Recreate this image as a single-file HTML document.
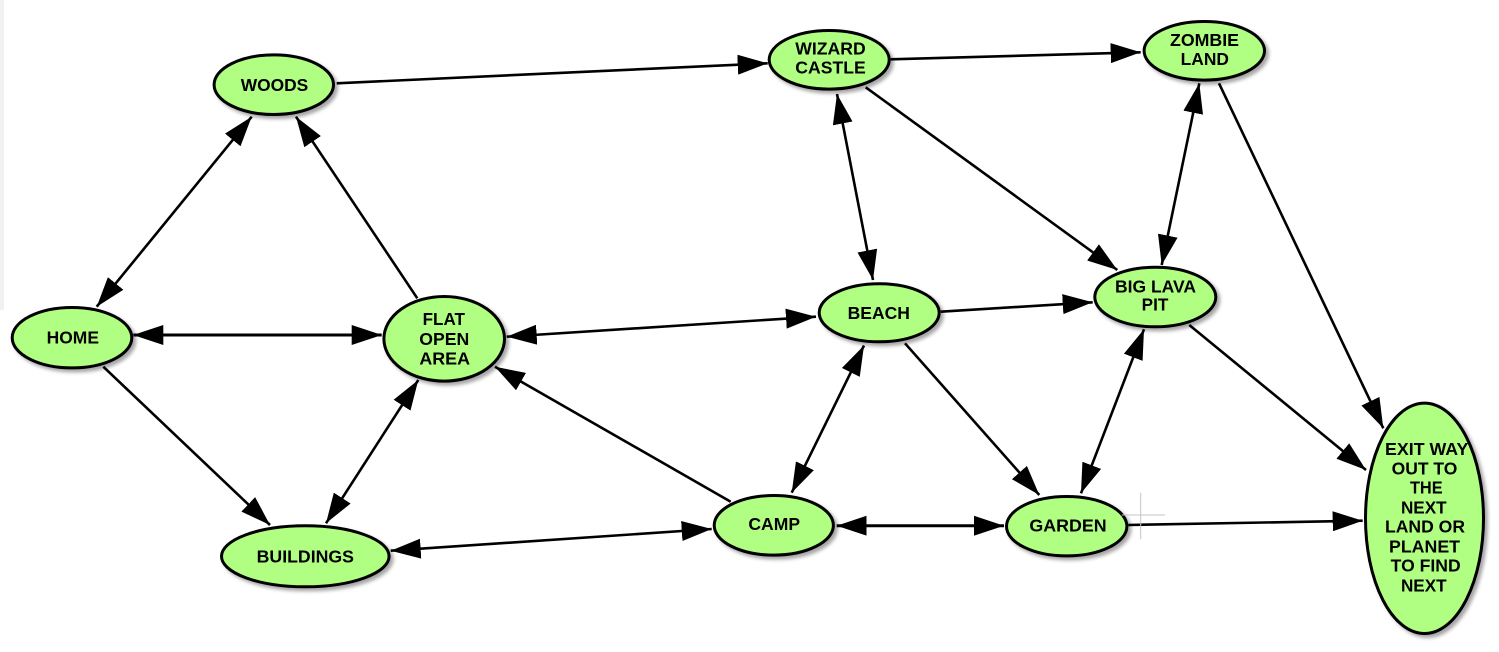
<!DOCTYPE html>
<html>
<head>
<meta charset="utf-8">
<style>
  html,body{margin:0;padding:0;background:#fff;}
  body{width:1499px;height:652px;overflow:hidden;}
  svg{display:block;}
  text{font-family:"Liberation Sans",Arial,sans-serif;font-weight:bold;font-size:17.5px;fill:#000;text-anchor:middle;}
</style>
</head>
<body>
<svg width="1499" height="652" viewBox="0 0 1499 652" xmlns="http://www.w3.org/2000/svg">
  <defs>
    <marker id="h" viewBox="0 0 30 20" refX="30" refY="10" markerWidth="30" markerHeight="20" markerUnits="userSpaceOnUse" orient="auto-start-reverse">
      <path d="M0,0 L30,10 L0,20 z" fill="#000"/>
    </marker>
    <filter id="sh" x="-20%" y="-20%" width="150%" height="150%">
      <feDropShadow dx="3" dy="3" stdDeviation="1.8" flood-color="#000" flood-opacity="0.35"/>
    </filter>
  </defs>

  <rect x="0" y="0" width="1499" height="652" fill="#fff"/>
  <rect x="0" y="0" width="4" height="310" fill="#f1f1f1"/>

  <!-- connectors -->
  <g stroke="#000" stroke-width="2.6" fill="none">
    <!-- WOODS -> WIZARD -->
    <line x1="336.7" y1="83.3" x2="767.7" y2="63.3" marker-end="url(#h)"/>
    <!-- WIZARD -> ZOMBIE -->
    <line x1="890.7" y1="59.3" x2="1140.7" y2="52.3" marker-end="url(#h)"/>
    <!-- HOME <-> WOODS -->
    <line x1="96.7" y1="306.7" x2="251.7" y2="116.7" marker-start="url(#h)" marker-end="url(#h)"/>
    <!-- FLAT -> WOODS -->
    <line x1="417.3" y1="298.3" x2="296" y2="116.7" marker-end="url(#h)"/>
    <!-- HOME <-> FLAT -->
    <line x1="133.3" y1="335" x2="381.7" y2="335" stroke-width="3" marker-start="url(#h)" marker-end="url(#h)"/>
    <!-- FLAT <-> BEACH -->
    <line x1="506.7" y1="336.7" x2="816" y2="316.7" marker-start="url(#h)" marker-end="url(#h)"/>
    <!-- HOME -> BUILDINGS -->
    <line x1="103.3" y1="366.7" x2="270" y2="525" marker-end="url(#h)"/>
    <!-- FLAT <-> BUILDINGS -->
    <line x1="418.3" y1="380" x2="326" y2="523.3" marker-start="url(#h)" marker-end="url(#h)"/>
    <!-- CAMP -> FLAT -->
    <line x1="730.7" y1="501.7" x2="495" y2="366.7" marker-end="url(#h)"/>
    <!-- BUILDINGS <-> CAMP -->
    <line x1="390.7" y1="550.7" x2="711.7" y2="529" marker-start="url(#h)" marker-end="url(#h)"/>
    <!-- WIZARD <-> BEACH -->
    <line x1="837" y1="94" x2="873" y2="280" marker-start="url(#h)" marker-end="url(#h)"/>
    <!-- WIZARD -> BIG LAVA -->
    <line x1="865.7" y1="87.3" x2="1117.3" y2="270" marker-end="url(#h)"/>
    <!-- ZOMBIE <-> BIG LAVA -->
    <line x1="1199.3" y1="83.3" x2="1161.7" y2="265" marker-start="url(#h)" marker-end="url(#h)"/>
    <!-- BEACH -> BIG LAVA -->
    <line x1="940.7" y1="311.7" x2="1092.7" y2="302.3" marker-end="url(#h)"/>
    <!-- ZOMBIE -> EXIT -->
    <line x1="1219" y1="83.3" x2="1383.3" y2="428.3" marker-end="url(#h)"/>
    <!-- BIG LAVA -> EXIT -->
    <line x1="1189.3" y1="325" x2="1366" y2="470" marker-end="url(#h)"/>
    <!-- BEACH -> GARDEN -->
    <line x1="905" y1="343.3" x2="1039.3" y2="495" marker-end="url(#h)"/>
    <!-- BEACH <-> CAMP -->
    <line x1="864" y1="345.5" x2="791.7" y2="492.7" marker-start="url(#h)" marker-end="url(#h)"/>
    <!-- CAMP <-> GARDEN -->
    <line x1="836.7" y1="525.7" x2="1004" y2="525.7" stroke-width="3" marker-start="url(#h)" marker-end="url(#h)"/>
    <!-- BIG LAVA <-> GARDEN -->
    <line x1="1144" y1="329.3" x2="1081" y2="493.3" marker-start="url(#h)" marker-end="url(#h)"/>
    <!-- GARDEN -> EXIT -->
    <line x1="1128.3" y1="525" x2="1362.7" y2="520.7" marker-end="url(#h)"/>
  </g>

  <!-- nodes -->
  <g fill="#b0ff82" stroke="#000" stroke-width="3" filter="url(#sh)">
    <ellipse cx="273.8" cy="84.7" rx="59.7" ry="29.8"/>
    <ellipse cx="72" cy="337.7" rx="59.8" ry="30.2"/>
    <ellipse cx="444.2" cy="338.8" rx="60.3" ry="42.3"/>
    <ellipse cx="829.2" cy="59.8" rx="60" ry="29.3"/>
    <ellipse cx="1204.3" cy="50.8" rx="60.2" ry="29.3"/>
    <ellipse cx="879.2" cy="312.8" rx="60" ry="29"/>
    <ellipse cx="1155.3" cy="297" rx="60.5" ry="29.8"/>
    <ellipse cx="773.8" cy="525.3" rx="59.6" ry="29.8"/>
    <ellipse cx="1066.7" cy="526.2" rx="60.2" ry="29.7"/>
    <ellipse cx="305.3" cy="556.3" rx="83.8" ry="30.5"/>
    <ellipse cx="1424.5" cy="518.3" rx="59" ry="115.2"/>
  </g>

  <!-- crosshair near GARDEN -->
  <g stroke="#c4c4c4" stroke-width="1">
    <line x1="1140.7" y1="492.7" x2="1140.7" y2="539.3"/>
    <line x1="1121.7" y1="515" x2="1165" y2="515"/>
  </g>

  <!-- labels -->
  <g lengthAdjust="spacingAndGlyphs">
    <text x="274.5" y="91" textLength="67.6" lengthAdjust="spacingAndGlyphs">WOODS</text>
    <text x="72.8" y="343.3" textLength="52.3" lengthAdjust="spacingAndGlyphs">HOME</text>
    <text x="443.8" y="325" textLength="42.3" lengthAdjust="spacingAndGlyphs">FLAT</text>
    <text x="444.3" y="345" textLength="50" lengthAdjust="spacingAndGlyphs">OPEN</text>
    <text x="444.7" y="364.3" textLength="50.7" lengthAdjust="spacingAndGlyphs">AREA</text>
    <text x="830.5" y="54.3" textLength="70.4" lengthAdjust="spacingAndGlyphs">WIZARD</text>
    <text x="830.5" y="73.3" textLength="70.4" lengthAdjust="spacingAndGlyphs">CASTLE</text>
    <text x="1204.5" y="46" textLength="69" lengthAdjust="spacingAndGlyphs">ZOMBIE</text>
    <text x="1204.8" y="65" textLength="48.3" lengthAdjust="spacingAndGlyphs">LAND</text>
    <text x="878.8" y="319" textLength="62.3" lengthAdjust="spacingAndGlyphs">BEACH</text>
    <text x="1155.5" y="292.3" textLength="81" lengthAdjust="spacingAndGlyphs">BIG LAVA</text>
    <text x="1155" y="310.7" textLength="26.7" lengthAdjust="spacingAndGlyphs">PIT</text>
    <text x="774.2" y="530" textLength="51.7" lengthAdjust="spacingAndGlyphs">CAMP</text>
    <text x="1068" y="531.7" textLength="77.3" lengthAdjust="spacingAndGlyphs">GARDEN</text>
    <text x="305.3" y="562.3" textLength="97.3" lengthAdjust="spacingAndGlyphs">BUILDINGS</text>
    <text x="1426.7" y="455" textLength="83.3" lengthAdjust="spacingAndGlyphs">EXIT WAY</text>
    <text x="1424.5" y="474.3" textLength="65.7" lengthAdjust="spacingAndGlyphs">OUT TO</text>
    <text x="1426.3" y="493.3" textLength="32.7" lengthAdjust="spacingAndGlyphs">THE</text>
    <text x="1423.8" y="513.3" textLength="45.7" lengthAdjust="spacingAndGlyphs">NEXT</text>
    <text x="1425" y="532.7" textLength="80" lengthAdjust="spacingAndGlyphs">LAND OR</text>
    <text x="1424.5" y="552.7" textLength="71" lengthAdjust="spacingAndGlyphs">PLANET</text>
    <text x="1425.7" y="571.7" textLength="70" lengthAdjust="spacingAndGlyphs">TO FIND</text>
    <text x="1423.8" y="591.7" textLength="45.7" lengthAdjust="spacingAndGlyphs">NEXT</text>
  </g>
</svg>
</body>
</html>
